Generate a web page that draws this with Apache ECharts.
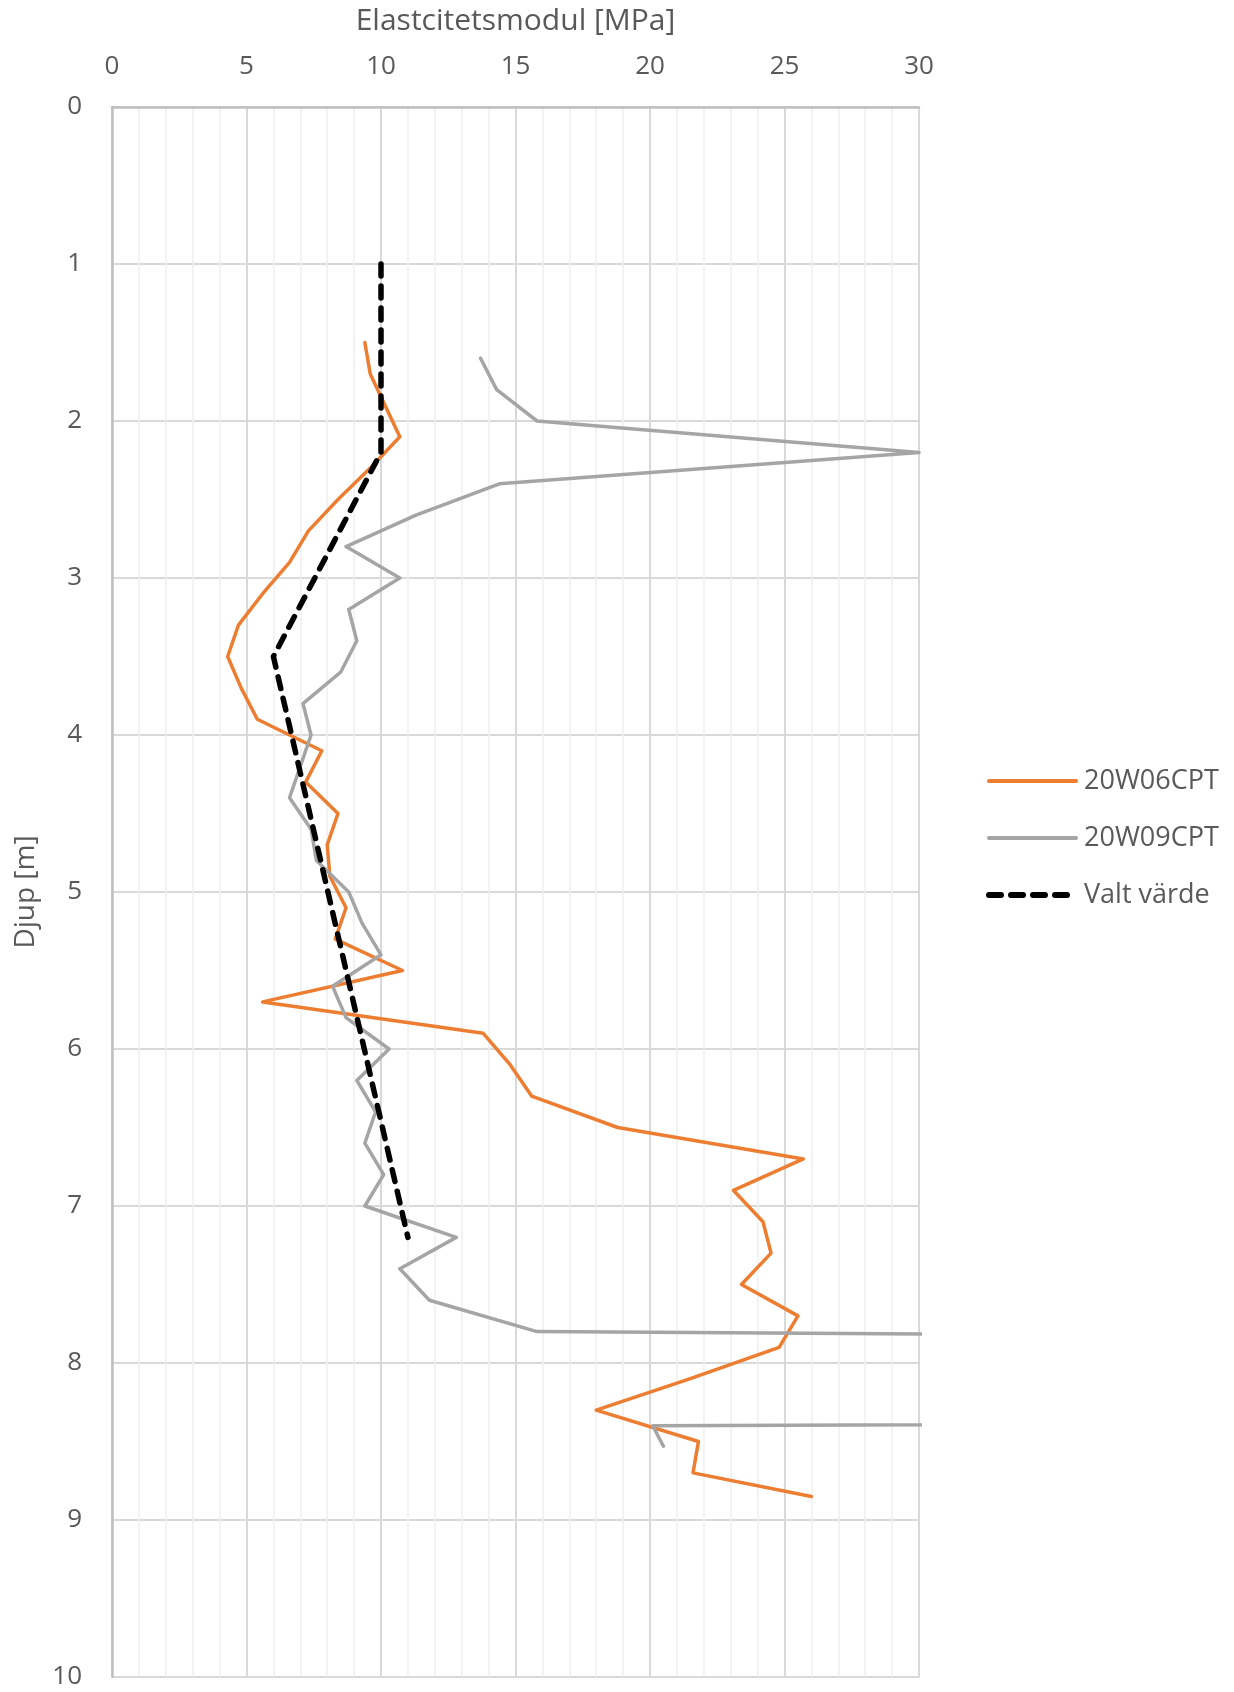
<!DOCTYPE html>
<html>
<head>
<meta charset="utf-8">
<script src="https://cdn.jsdelivr.net/npm/echarts@6/dist/echarts.min.js"></script>
<style>
html,body{margin:0;padding:0;background:#fff;}
#chart{width:1234px;height:1692px;}
</style>
</head>
<body>
<div id="chart"></div>
<script>
// X axis ticks (E-modulus, MPa) and Y axis ticks (depth, m)
const xTicks = [0, 5, 10, 15, 20, 25, 30];
const yTicks = [0, 1, 2, 3, 4, 5, 6, 7, 8, 9, 10];

const seriesNames = ['20W06CPT', '20W09CPT', 'Valt värde'];

// 20W06CPT
const depth06 = [1.5, 1.7, 2.1, 2.3, 2.5, 2.7, 2.9, 3.1, 3.3, 3.5, 3.7, 3.9, 4.1, 4.3, 4.5, 4.7, 4.9, 5.1, 5.3, 5.5, 5.7, 5.9, 6.1, 6.3, 6.5, 6.7, 6.9, 7.1, 7.3, 7.5, 7.7, 7.9, 8.1, 8.3, 8.5, 8.7, 8.85];
const e06 =    [9.4, 9.6, 10.7, 9.6, 8.4, 7.3, 6.6, 5.6, 4.7, 4.3, 4.8, 5.4, 7.8, 7.2, 8.4, 8.0, 8.1, 8.7, 8.3, 10.8, 5.6, 13.8, 14.8, 15.6, 18.8, 25.7, 23.1, 24.2, 24.5, 23.4, 25.5, 24.8, 21.5, 18.0, 21.8, 21.6, 26.0];

// 20W09CPT
const depth09 = [1.6, 1.8, 2.0, 2.2, 2.4, 2.6, 2.8, 3.0, 3.2, 3.4, 3.6, 3.8, 4.0, 4.2, 4.4, 4.6, 4.8, 5.0, 5.2, 5.4, 5.6, 5.8, 6.0, 6.2, 6.4, 6.6, 6.8, 7.0, 7.2, 7.4, 7.6, 7.8, 8.0, 8.2, 8.4, 8.53];
const e09 =    [13.7, 14.3, 15.8, 30, 14.4, 11.3, 8.7, 10.7, 8.8, 9.1, 8.5, 7.1, 7.4, 7.0, 6.6, 7.4, 7.6, 8.8, 9.3, 10.0, 8.2, 8.7, 10.3, 9.1, 9.8, 9.4, 10.1, 9.4, 12.8, 10.7, 11.8, 15.8, 200, 300, 20.1, 20.5];

// Valt värde
const depthValt = [1.0, 2.2, 3.5, 7.2];
const eValt =     [10, 10, 6, 11];

function pairs(xs, ys) { return xs.map((x, i) => [x, ys[i]]); }

const textColor = '#595959';
const font = '"Open Sans", "Noto Sans", sans-serif';
const colors = ['#ED7D31', '#A5A5A5', '#000000'];
const dash = [12, 10];

const chart = echarts.init(document.getElementById('chart'), null, {renderer: 'canvas'});
chart.setOption({
  animation: false,
  backgroundColor: '#ffffff',
  textStyle: {fontFamily: font, color: textColor},
  grid: {left: 112, top: 107, width: 807, height: 1570, containLabel: false},
  legend: {
    orient: 'vertical',
    left: 981,
    top: 761,
    itemWidth: 87,
    itemHeight: 14,
    itemGap: 27,
    itemStyle: {opacity: 0},
    data: [
      {name: seriesNames[0], lineStyle: {color: colors[0], width: 4, cap: 'round'}},
      {name: seriesNames[1], lineStyle: {color: colors[1], width: 4, cap: 'round'}},
      {name: seriesNames[2], lineStyle: {color: colors[2], width: 6, type: dash, cap: 'round'}}
    ],
    textStyle: {fontFamily: font, fontSize: 27, color: textColor, lineHeight: 30, padding: [0, 0, 0, 3]}
  },
  xAxis: {
    type: 'value',
    position: 'top',
    min: xTicks[0],
    max: xTicks[xTicks.length - 1],
    interval: 5,
    name: 'Elastcitetsmodul [MPa]',
    nameLocation: 'middle',
    nameGap: 71,
    nameTextStyle: {fontFamily: font, fontSize: 30, color: textColor},
    axisLine: {show: true, onZero: false, lineStyle: {color: '#BFBFBF', width: 2.5}},
    axisTick: {show: false},
    axisLabel: {fontFamily: font, fontSize: 26, color: textColor, margin: 27},
    splitLine: {show: true, lineStyle: {color: '#D9D9D9', width: 2}},
    minorTick: {show: false, splitNumber: 5},
    minorSplitLine: {show: true, lineStyle: {color: '#EFEFEF', width: 1.5}}
  },
  yAxis: {
    type: 'value',
    inverse: true,
    min: yTicks[0],
    max: yTicks[yTicks.length - 1],
    interval: 1,
    name: 'Djup [m]',
    nameLocation: 'middle',
    nameGap: 72,
    nameRotate: 90,
    nameTextStyle: {fontFamily: font, fontSize: 28, color: textColor},
    axisLine: {show: true, onZero: false, lineStyle: {color: '#BFBFBF', width: 2.5}},
    axisTick: {show: false},
    axisLabel: {fontFamily: font, fontSize: 26, color: textColor, margin: 30},
    splitLine: {show: true, lineStyle: {color: '#D9D9D9', width: 2}}
  },
  series: [
    {
      name: seriesNames[0],
      type: 'line',
      data: pairs(e06, depth06),
      symbol: 'none',
      clip: true,
      lineStyle: {color: colors[0], width: 3.5, cap: 'round', join: 'round'},
      itemStyle: {color: colors[0]}
    },
    {
      name: seriesNames[1],
      type: 'line',
      data: pairs(e09, depth09),
      symbol: 'none',
      clip: true,
      lineStyle: {color: colors[1], width: 3.5, cap: 'round', join: 'round'},
      itemStyle: {color: colors[1]}
    },
    {
      name: seriesNames[2],
      type: 'line',
      data: pairs(eValt, depthValt),
      symbol: 'none',
      clip: true,
      lineStyle: {color: colors[2], width: 5.5, type: dash, cap: 'round', join: 'round'},
      itemStyle: {color: colors[2]}
    }
  ]
});
</script>
</body>
</html>
